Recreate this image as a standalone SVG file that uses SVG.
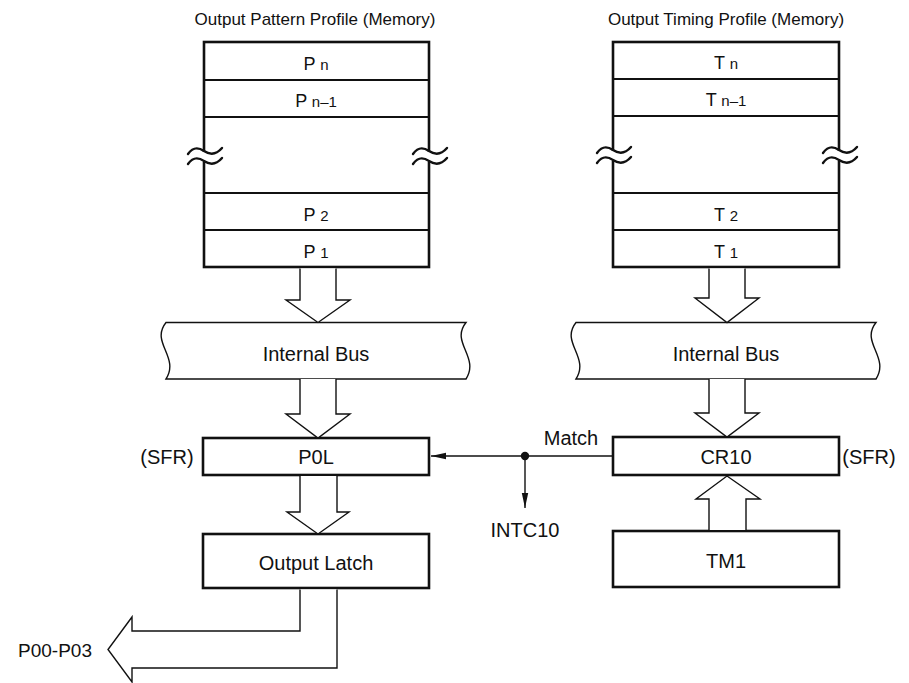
<svg xmlns="http://www.w3.org/2000/svg" width="909" height="683" viewBox="0 0 909 683">
<style>
text{font-family:"Liberation Sans",Arial,Helvetica,sans-serif;fill:#111;}
.t{font-size:17px;text-anchor:middle;}
.r{font-size:18px;text-anchor:middle;}
.s{font-size:15px;}
.l{font-size:20px;text-anchor:middle;}
.box{fill:#fff;stroke:#111;stroke-width:2.6;}
.row{stroke:#111;stroke-width:2.2;fill:none;}
.bus{fill:#fff;stroke:#111;stroke-width:1.4;}
.arr{fill:#fff;stroke:#111;stroke-width:1.4;stroke-linejoin:miter;}
.wave{fill:none;stroke:#111;stroke-width:2.4;stroke-linecap:round;}
.gap{fill:#fff;stroke:none;}
.ln{fill:none;stroke:#111;stroke-width:1.4;}
</style>
<defs>
<marker id="ah" markerWidth="16" markerHeight="8" refX="15" refY="4" orient="auto" markerUnits="userSpaceOnUse">
<path d="M0,0.8 L15,4 L0,7.2 Z" fill="#111"/>
</marker>
</defs>

<g id="title-pattern"><text class="t" x="315" y="25">Output Pattern Profile (Memory)</text></g>
<g id="title-timing"><text class="t" x="726" y="25">Output Timing Profile (Memory)</text></g>

<g id="pattern-memory">
<rect class="box" x="204" y="42" width="225" height="225"/>
<line class="row" x1="204" y1="80" x2="429" y2="80"/>
<line class="row" x1="204" y1="117" x2="429" y2="117"/>
<line class="row" x1="204" y1="193" x2="429" y2="193"/>
<line class="row" x1="204" y1="230" x2="429" y2="230"/>
<rect class="gap" x="200" y="152" width="8" height="10"/>
<rect class="gap" x="425" y="152" width="8" height="10"/>
<path class="wave" d="M188,154 c5,-7 10,-7 16,-3 s12,4 18,-3"/>
<path class="wave" d="M188,164 c5,-7 10,-7 16,-3 s12,4 18,-3"/>
<path class="wave" d="M413,154 c5,-7 10,-7 16,-3 s12,4 18,-3"/>
<path class="wave" d="M413,164 c5,-7 10,-7 16,-3 s12,4 18,-3"/>
<text class="r" x="316" y="70">P <tspan class="s">n</tspan></text>
<text class="r" x="316" y="107">P <tspan class="s">n–1</tspan></text>
<text class="r" x="316" y="221">P <tspan class="s">2</tspan></text>
<text class="r" x="316" y="258">P <tspan class="s">1</tspan></text>
</g>

<g id="timing-memory">
<rect class="box" x="613" y="42" width="226" height="225"/>
<line class="row" x1="613" y1="79" x2="839" y2="79"/>
<line class="row" x1="613" y1="116" x2="839" y2="116"/>
<line class="row" x1="613" y1="193" x2="839" y2="193"/>
<line class="row" x1="613" y1="230" x2="839" y2="230"/>
<rect class="gap" x="609" y="151" width="8" height="10"/>
<rect class="gap" x="835" y="151" width="8" height="10"/>
<path class="wave" d="M597,153 c5,-7 10,-7 16,-3 s12,4 18,-3"/>
<path class="wave" d="M597,163 c5,-7 10,-7 16,-3 s12,4 18,-3"/>
<path class="wave" d="M823,153 c5,-7 10,-7 16,-3 s12,4 18,-3"/>
<path class="wave" d="M823,163 c5,-7 10,-7 16,-3 s12,4 18,-3"/>
<text class="r" x="726" y="69">T <tspan class="s">n</tspan></text>
<text class="r" x="726" y="106">T <tspan class="s">n–1</tspan></text>
<text class="r" x="726" y="221">T <tspan class="s">2</tspan></text>
<text class="r" x="726" y="258">T <tspan class="s">1</tspan></text>
</g>

<g id="bus-left">
<path class="bus" d="M166,322.5 H466 C450,342.5 480,357 466,379 H166 C180,357 150,342.5 166,322.5 Z"/>
<text class="l" x="316" y="361">Internal Bus</text>
</g>
<g id="bus-right">
<path class="bus" d="M576,322.5 H876 C860,342.5 890,357 876,379 H576 C590,357 560,342.5 576,322.5 Z"/>
<text class="l" x="726" y="361">Internal Bus</text>
</g>

<g id="p0l">
<rect class="box" x="203" y="438" width="226" height="37"/>
<text class="l" x="316" y="464">P0L</text>
</g>
<g id="sfr-left"><text class="l" x="167" y="464">(SFR)</text></g>

<g id="cr10">
<rect class="box" x="613" y="437" width="226" height="38"/>
<text class="l" x="726" y="464">CR10</text>
</g>
<g id="sfr-right"><text class="l" x="869" y="464">(SFR)</text></g>

<g id="output-latch">
<rect class="box" x="203" y="534" width="226" height="54"/>
<text class="l" x="316" y="570">Output Latch</text>
</g>

<g id="tm1">
<rect class="box" x="613" y="531" width="226" height="56"/>
<text class="l" x="726" y="568">TM1</text>
</g>

<g id="connectors">
<path class="arr" d="M300,268.5 V300 H286 L318,322.5 L350,300 H336 V268.5"/>
<path class="arr" d="M300,379 V414 H286 L318,438 L350,414 H336 V379"/>
<path class="arr" d="M300,476 V512 H287 L318,534 L349,512 H337 V476"/>
<path class="arr" d="M709,268.5 V298 H695 L727,322.5 L759,298 H745 V268.5"/>
<path class="arr" d="M709,379 V413 H695 L727,437 L759,413 H745 V379"/>
<path class="arr" d="M709,530 V499 H696 L727,476 L760,499 H746 V530"/>
<path class="arr" d="M300,589.5 V631 H132 V617 L108,649.5 L132,682 V668 H337 V589.5"/>
<line class="ln" x1="612" y1="456" x2="431" y2="456" marker-end="url(#ah)"/>
<line class="ln" x1="525" y1="456" x2="525" y2="508" marker-end="url(#ah)"/>
<circle cx="525" cy="456" r="4.2" fill="#111"/>
</g>

<g id="labels">
<text class="l" x="571" y="445">Match</text>
<text class="l" x="525" y="537">INTC10</text>
<text class="l" x="55" y="657" style="font-size:19px">P00-P03</text>
</g>
</svg>
